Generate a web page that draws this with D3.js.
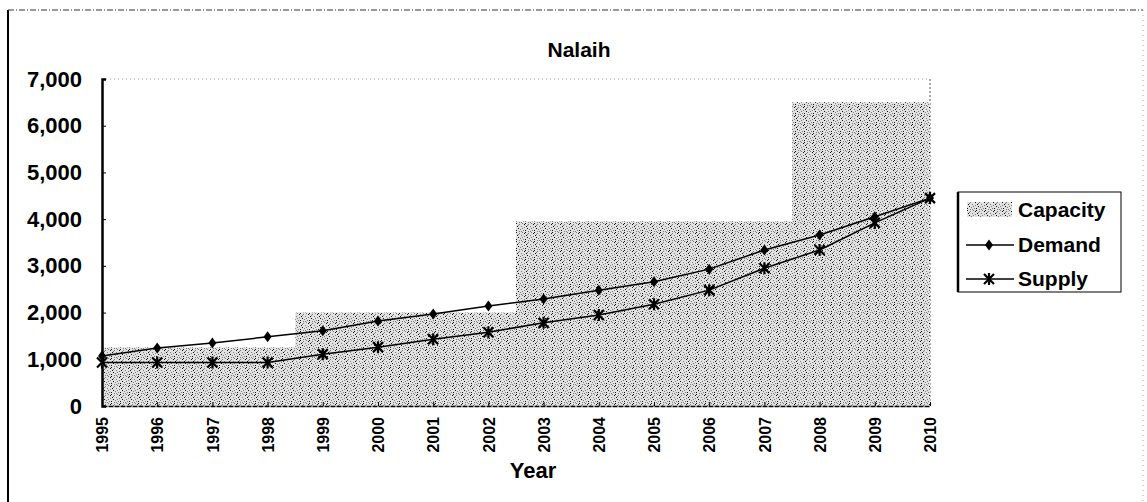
<!DOCTYPE html>
<html>
<head>
<meta charset="utf-8">
<script src="https://cdn.jsdelivr.net/npm/d3@7"></script>
<style>
body { margin: 0; background: #fff; }
text { font-family: Arial, "Liberation Sans", sans-serif; font-weight: bold; fill: #000; }
</style>
</head>
<body>
<script>
var years = ["1995","1996","1997","1998","1999","2000","2001","2002","2003","2004","2005","2006","2007","2008","2009","2010"];
var capacity = [1250,1250,1250,1250,2000,2000,2000,2000,3950,3950,3950,3950,3950,6500,6500,6500];
var demand = [1070,1240,1350,1480,1610,1820,1970,2140,2290,2480,2660,2930,3340,3660,4050,4450];
var supply = [930,930,930,930,1110,1260,1430,1580,1780,1950,2180,2480,2950,3340,3920,4450];
var yTicks = [0,1000,2000,3000,4000,5000,6000,7000];

var W = 1147, H = 502;
var margin = { top: 79, right: 217, bottom: 96, left: 102 };
var width = W - margin.left - margin.right;
var height = H - margin.top - margin.bottom;
var font = "Arial, 'Liberation Sans', sans-serif";

var svg = d3.select("body").append("svg")
    .attr("width", W)
    .attr("height", H);

// stipple pattern for capacity
var defs = svg.append("defs");
var pat = defs.append("pattern")
    .attr("id", "stip")
    .attr("patternUnits", "userSpaceOnUse")
    .attr("width", 9).attr("height", 9);
pat.append("rect").attr("width", 9).attr("height", 9).attr("fill", "#e2e2e2");
var dots = [[0,0],[3,1],[6,0],[1,3],[5,3],[8,4],[2,5],[4,6],[7,7],[0,7],[3,8],[6,5],[8,1],[2,2],[5,8]];
dots.forEach(function(d, i) {
  pat.append("rect").attr("x", d[0]).attr("y", d[1]).attr("width", 1).attr("height", 1)
     .attr("fill", i % 3 == 0 ? "#111" : "#7a7a7a");
});

// outer chart frame
svg.append("line").attr("x1", 8).attr("x2", 8).attr("y1", 10).attr("y2", H)
    .attr("stroke", "#000").attr("stroke-width", 2);
svg.append("line").attr("x1", 8).attr("x2", W - 4).attr("y1", 10).attr("y2", 10)
    .attr("stroke", "#333").attr("stroke-width", 1).attr("stroke-dasharray", "6,2,1,2");
svg.append("line").attr("x1", W - 4).attr("x2", W - 4).attr("y1", 10).attr("y2", H)
    .attr("stroke", "#aaa").attr("stroke-width", 1).attr("stroke-dasharray", "1,4");

svg.append("text")
    .attr("x", 579).attr("y", 57)
    .attr("text-anchor", "middle")
    .style("font-size", "21px")
    .text("Nalaih");

var g = svg.append("g")
    .attr("transform", "translate(" + margin.left + "," + margin.top + ")");

var x = d3.scalePoint()
    .domain(years)
    .range([0, width]);

var y = d3.scaleLinear()
    .domain([0, 7000])
    .range([height, 0]);

// plot area border (top dotted, right dashed)
g.append("line").attr("x1", 0).attr("x2", width).attr("y1", 0).attr("y2", 0)
    .attr("stroke", "#999").attr("stroke-dasharray", "1,3");
g.append("line").attr("x1", width).attr("x2", width).attr("y1", 0).attr("y2", height)
    .attr("stroke", "#555").attr("stroke-dasharray", "2,2");

var capData = years.map(function(d, i) { return { year: d, v: capacity[i] }; });

var area = d3.area()
    .x(function(d) { return x(d.year); })
    .y0(height)
    .y1(function(d) { return y(d.v); })
    .curve(d3.curveStep);

g.append("path")
    .datum(capData)
    .attr("d", area)
    .attr("fill", "url(#stip)");

// axes
var yAxis = d3.axisLeft(y)
    .tickValues(yTicks)
    .tickFormat(d3.format(","))
    .tickSize(-4)
    .tickPadding(20);

var yg = g.append("g").call(yAxis);
yg.select(".domain").attr("stroke", "#000").attr("stroke-width", 2.5);
yg.selectAll(".tick line").attr("stroke", "#000");
yg.selectAll(".tick text").style("font-size", "22px").style("font-family", font).style("font-weight", "bold");

var xAxis = d3.axisBottom(x).tickSize(-4).tickSizeOuter(0);
var xg = g.append("g")
    .attr("transform", "translate(0," + height + ")")
    .call(xAxis);
xg.select(".domain").attr("stroke", "#000").attr("stroke-width", 1.5).attr("stroke-dasharray", "5,1");
xg.selectAll(".tick line").attr("stroke", "#000");
xg.selectAll(".tick text")
    .attr("transform", "rotate(-90)")
    .attr("text-anchor", "end")
    .attr("x", -11)
    .attr("y", 0)
    .attr("dy", "0.35em")
    .style("font-size", "16px")
    .style("font-family", font)
    .style("font-weight", "bold");

svg.append("text")
    .attr("x", 533).attr("y", 478)
    .attr("text-anchor", "middle")
    .style("font-size", "22px")
    .text("Year");

// lines
var line = d3.line()
    .x(function(d) { return x(d.year); })
    .y(function(d) { return y(d.v); });

var demData = years.map(function(d, i) { return { year: d, v: demand[i] }; });
var supData = years.map(function(d, i) { return { year: d, v: supply[i] }; });

g.append("path").datum(demData).attr("d", line)
    .attr("fill", "none").attr("stroke", "#000").attr("stroke-width", 1.5);
g.append("path").datum(supData).attr("d", line)
    .attr("fill", "none").attr("stroke", "#000").attr("stroke-width", 1.5);

var diamond = "M0,-5.5L4,0L0,5.5L-4,0Z";
var star = "M-5,-5L5,5M-5,5L5,-5M0,-6L0,6";

g.selectAll(".dem")
    .data(demData)
    .enter().append("path")
    .attr("class", "dem")
    .attr("transform", function(d) { return "translate(" + x(d.year) + "," + y(d.v) + ")"; })
    .attr("d", diamond)
    .attr("fill", "#000");

g.selectAll(".sup")
    .data(supData)
    .enter().append("path")
    .attr("class", "sup")
    .attr("transform", function(d) { return "translate(" + x(d.year) + "," + y(d.v) + ")"; })
    .attr("d", star)
    .attr("fill", "none")
    .attr("stroke", "#000")
    .attr("stroke-width", 2.2);

// legend
var lg = svg.append("g").attr("transform", "translate(958,192)");
lg.append("rect").attr("width", 163).attr("height", 100)
    .attr("fill", "#fff").attr("stroke", "#000").attr("stroke-width", 1);
lg.append("line").attr("x1", 0).attr("x2", 0).attr("y1", 0).attr("y2", 100)
    .attr("stroke", "#000").attr("stroke-width", 2.5);

lg.append("rect").attr("x", 9).attr("y", 10).attr("width", 45).attr("height", 15)
    .attr("fill", "url(#stip)");
lg.append("text").attr("x", 60).attr("y", 25).style("font-size", "21px").text("Capacity");

lg.append("line").attr("x1", 8).attr("x2", 56).attr("y1", 53).attr("y2", 53)
    .attr("stroke", "#000").attr("stroke-width", 1.5);
lg.append("path").attr("transform", "translate(31,53)").attr("d", diamond).attr("fill", "#000");
lg.append("text").attr("x", 60).attr("y", 60).style("font-size", "21px").text("Demand");

lg.append("line").attr("x1", 8).attr("x2", 56).attr("y1", 87).attr("y2", 87)
    .attr("stroke", "#000").attr("stroke-width", 1.5);
lg.append("path").attr("transform", "translate(31,87)").attr("d", star)
    .attr("fill", "none").attr("stroke", "#000").attr("stroke-width", 2.2);
lg.append("text").attr("x", 60).attr("y", 94).style("font-size", "21px").text("Supply");
</script>
</body>
</html>
